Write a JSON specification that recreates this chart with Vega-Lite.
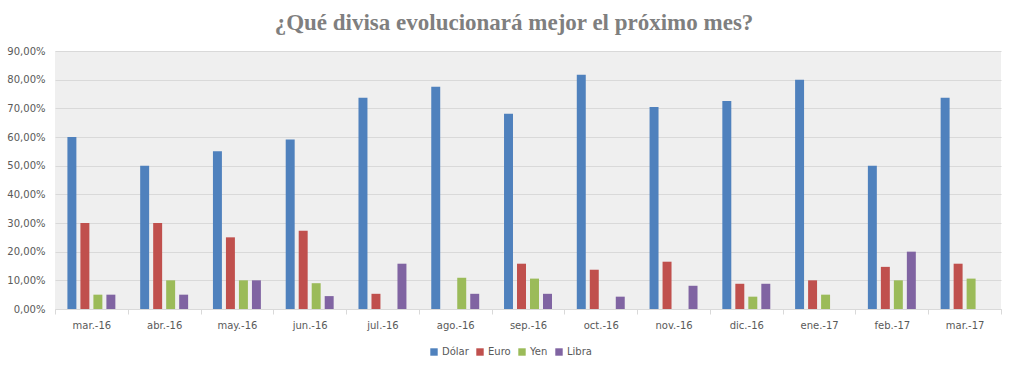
{
  "$schema": "https://vega.github.io/schema/vega-lite/v6.json",
  "autosize": {"type": "none"},
  "width": 946,
  "height": 258,
  "padding": {"left": 55, "top": 51, "right": 16, "bottom": 65},
  "background": "white",
  "title": {
    "text": "¿Qué divisa evolucionará mejor el próximo mes?",
    "font": "Liberation Serif",
    "fontSize": 23,
    "fontWeight": "bold",
    "color": "#7f7f7f",
    "anchor": "middle",
    "dx": -14,
    "offset": 11
  },
  "data": {
    "values": [
      {"mes": "mar.-16", "divisa": "Dólar", "valor": 0.60},
      {"mes": "mar.-16", "divisa": "Euro", "valor": 0.30},
      {"mes": "mar.-16", "divisa": "Yen", "valor": 0.05},
      {"mes": "mar.-16", "divisa": "Libra", "valor": 0.05},
      {"mes": "abr.-16", "divisa": "Dólar", "valor": 0.50},
      {"mes": "abr.-16", "divisa": "Euro", "valor": 0.30},
      {"mes": "abr.-16", "divisa": "Yen", "valor": 0.10},
      {"mes": "abr.-16", "divisa": "Libra", "valor": 0.05},
      {"mes": "may.-16", "divisa": "Dólar", "valor": 0.55},
      {"mes": "may.-16", "divisa": "Euro", "valor": 0.25},
      {"mes": "may.-16", "divisa": "Yen", "valor": 0.10},
      {"mes": "may.-16", "divisa": "Libra", "valor": 0.10},
      {"mes": "jun.-16", "divisa": "Dólar", "valor": 0.591},
      {"mes": "jun.-16", "divisa": "Euro", "valor": 0.273},
      {"mes": "jun.-16", "divisa": "Yen", "valor": 0.09},
      {"mes": "jun.-16", "divisa": "Libra", "valor": 0.045},
      {"mes": "jul.-16", "divisa": "Dólar", "valor": 0.737},
      {"mes": "jul.-16", "divisa": "Euro", "valor": 0.053},
      {"mes": "jul.-16", "divisa": "Yen", "valor": 0},
      {"mes": "jul.-16", "divisa": "Libra", "valor": 0.158},
      {"mes": "ago.-16", "divisa": "Dólar", "valor": 0.775},
      {"mes": "ago.-16", "divisa": "Euro", "valor": 0},
      {"mes": "ago.-16", "divisa": "Yen", "valor": 0.109},
      {"mes": "ago.-16", "divisa": "Libra", "valor": 0.053},
      {"mes": "sep.-16", "divisa": "Dólar", "valor": 0.681},
      {"mes": "sep.-16", "divisa": "Euro", "valor": 0.158},
      {"mes": "sep.-16", "divisa": "Yen", "valor": 0.106},
      {"mes": "sep.-16", "divisa": "Libra", "valor": 0.053},
      {"mes": "oct.-16", "divisa": "Dólar", "valor": 0.817},
      {"mes": "oct.-16", "divisa": "Euro", "valor": 0.137},
      {"mes": "oct.-16", "divisa": "Yen", "valor": 0},
      {"mes": "oct.-16", "divisa": "Libra", "valor": 0.043},
      {"mes": "nov.-16", "divisa": "Dólar", "valor": 0.705},
      {"mes": "nov.-16", "divisa": "Euro", "valor": 0.165},
      {"mes": "nov.-16", "divisa": "Yen", "valor": 0},
      {"mes": "nov.-16", "divisa": "Libra", "valor": 0.081},
      {"mes": "dic.-16", "divisa": "Dólar", "valor": 0.726},
      {"mes": "dic.-16", "divisa": "Euro", "valor": 0.088},
      {"mes": "dic.-16", "divisa": "Yen", "valor": 0.043},
      {"mes": "dic.-16", "divisa": "Libra", "valor": 0.088},
      {"mes": "ene.-17", "divisa": "Dólar", "valor": 0.80},
      {"mes": "ene.-17", "divisa": "Euro", "valor": 0.10},
      {"mes": "ene.-17", "divisa": "Yen", "valor": 0.05},
      {"mes": "ene.-17", "divisa": "Libra", "valor": 0},
      {"mes": "feb.-17", "divisa": "Dólar", "valor": 0.50},
      {"mes": "feb.-17", "divisa": "Euro", "valor": 0.147},
      {"mes": "feb.-17", "divisa": "Yen", "valor": 0.10},
      {"mes": "feb.-17", "divisa": "Libra", "valor": 0.20},
      {"mes": "mar.-17", "divisa": "Dólar", "valor": 0.737},
      {"mes": "mar.-17", "divisa": "Euro", "valor": 0.158},
      {"mes": "mar.-17", "divisa": "Yen", "valor": 0.106},
      {"mes": "mar.-17", "divisa": "Libra", "valor": 0}
    ]
  },
  "mark": {"type": "bar"},
  "encoding": {
    "x": {
      "field": "mes",
      "type": "nominal",
      "sort": null,
      "title": null,
      "scale": {"paddingInner": 0, "paddingOuter": 0},
      "axis": {
        "labelAngle": 0,
        "labelFont": "DejaVu Sans",
        "labelFontSize": 10,
        "labelColor": "#595959",
        "domainColor": "#d9d9d9",
        "tickColor": "#d9d9d9",
        "tickSize": 5,
        "tickBand": "extent",
        "labelPadding": 6,
        "grid": false
      }
    },
    "xOffset": {
      "field": "divisa",
      "type": "nominal",
      "sort": ["Dólar", "Euro", "Yen", "Libra"],
      "scale": {"paddingInner": 0.31, "paddingOuter": 0.955}
    },
    "y": {
      "field": "valor",
      "type": "quantitative",
      "title": null,
      "scale": {"domain": [0, 0.9], "nice": false},
      "axis": {
        "values": [0, 0.1, 0.2, 0.3, 0.4, 0.5, 0.6, 0.7, 0.8, 0.9],
        "labelExpr": "replace(format(datum.value, '.2%'), '.', ',')",
        "labelFont": "DejaVu Sans",
        "labelFontSize": 10,
        "labelColor": "#595959",
        "domain": false,
        "ticks": false,
        "tickSize": 0,
        "labelPadding": 10,
        "gridColor": "#d9d9d9",
        "gridWidth": 1
      }
    },
    "color": {
      "field": "divisa",
      "type": "nominal",
      "sort": ["Dólar", "Euro", "Yen", "Libra"],
      "scale": {
        "domain": ["Dólar", "Euro", "Yen", "Libra"],
        "range": ["#4f81bd", "#c0504d", "#9bbb59", "#8064a2"]
      },
      "legend": {
        "title": null,
        "orient": "none",
        "legendX": 374,
        "legendY": 296,
        "direction": "horizontal",
        "symbolType": "square",
        "symbolSize": 55,
        "symbolStrokeWidth": 0,
        "labelFont": "DejaVu Sans",
        "labelFontSize": 10,
        "labelColor": "#595959",
        "labelOffset": 3,
        "columnPadding": 6
      }
    }
  },
  "config": {
    "view": {"fill": "#efefef", "stroke": null}
  }
}
